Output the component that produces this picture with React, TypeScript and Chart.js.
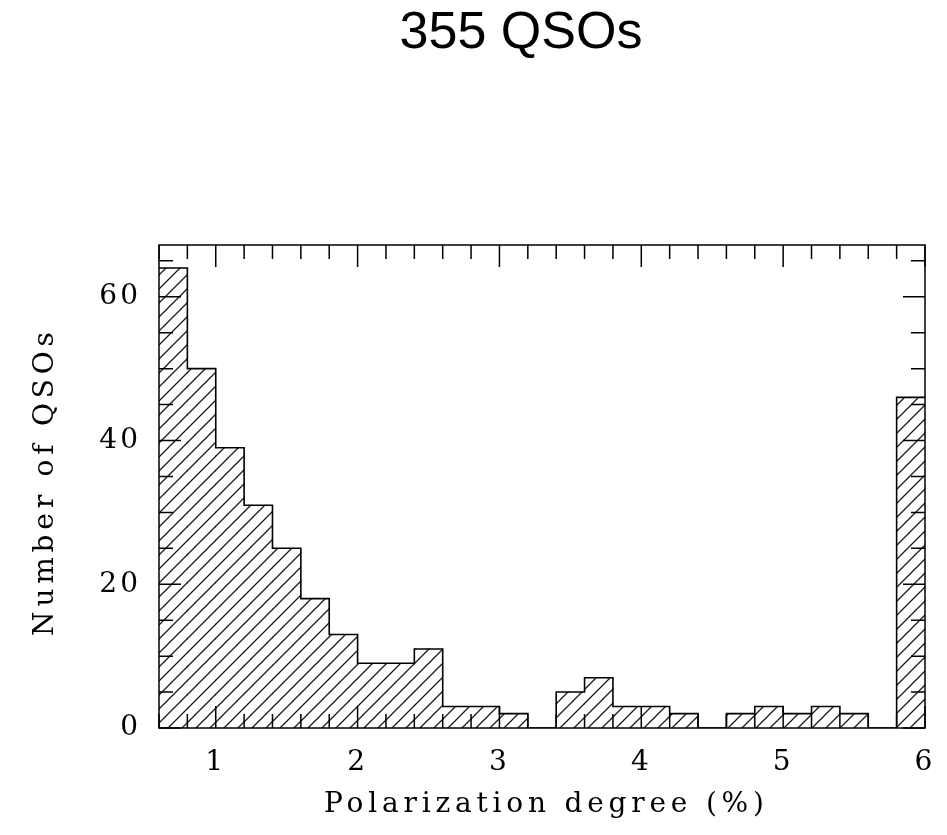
import React, { useEffect, useRef } from "react";
import { Chart, registerables } from "chart.js";

Chart.register(...registerables);

// ---- data ----
const binLeftEdges = [
  0.6, 0.8, 1.0, 1.2, 1.4, 1.6, 1.8, 2.0, 2.2, 2.4, 2.6, 2.8, 3.0, 3.2,
  3.4, 3.6, 3.8, 4.0, 4.2, 4.4, 4.6, 4.8, 5.0, 5.2, 5.4, 5.6, 5.8,
];
const binWidth = 0.2;
const counts = [
  64, 50, 39, 31, 25, 18, 13, 9, 9, 11, 3, 3, 2, 0,
  5, 7, 3, 3, 2, 0, 2, 3, 2, 3, 2, 0, 46,
];
const xTickLabels = [1, 2, 3, 4, 5, 6];
const yTickLabels = [0, 20, 40, 60];
const xMinorStep = 0.2;
const yMinorStep = 5;
const xMin = 0.6;
const xMax = 6.0;
const yMin = 0;
const yMax = 67.2;
const titleText = "355 QSOs";
const xTitle = "Polarization degree (%)";
const yTitle = "Number of QSOs";

const SERIF = "'DejaVu Serif', serif";
const LS_TICK = 3;
const LS_TITLE = 4.8;

function makeHatch(): CanvasPattern | string {
  const s = 14;
  const c = document.createElement("canvas");
  c.width = s;
  c.height = s;
  const g = c.getContext("2d");
  if (!g) return "#ccc";
  g.strokeStyle = "#1a1a1a";
  g.lineWidth = 1.3;
  g.beginPath();
  g.moveTo(-1, s + 1);
  g.lineTo(s + 1, -1);
  g.moveTo(-1, 1);
  g.lineTo(1, -1);
  g.moveTo(s - 1, s + 1);
  g.lineTo(s + 1, s - 1);
  g.stroke();
  return g.createPattern(c, "repeat") || "#ccc";
}

const spacingPlugin = {
  id: "spacing",
  beforeDraw(chart: any) {
    (chart.ctx as any).letterSpacing = LS_TICK + "px";
  },
  afterDraw(chart: any) {
    (chart.ctx as any).letterSpacing = "0px";
  },
};

const frameTicksPlugin = {
  id: "frameTicks",
  afterDatasetsDraw(chart: any) {
    const { ctx, chartArea: a, scales } = chart;
    const x = scales.x;
    const y = scales.y;
    ctx.save();
    ctx.strokeStyle = "#000";
    ctx.lineWidth = 1.5;
    ctx.beginPath();
    const eps = 1e-6;
    for (let v = xMin; v <= xMax + eps; v += xMinorStep) {
      const vv = Math.round(v * 10) / 10;
      const major = xTickLabels.some((t) => Math.abs(t - vv) < eps);
      const len = major ? 22 : 14;
      const px = x.getPixelForValue(vv);
      ctx.moveTo(px, a.bottom);
      ctx.lineTo(px, a.bottom - len);
      ctx.moveTo(px, a.top);
      ctx.lineTo(px, a.top + len);
    }
    for (let v = yMin; v <= yMax + eps; v += yMinorStep) {
      const major = yTickLabels.some((t) => Math.abs(t - v) < eps);
      const len = major ? 22 : 14;
      const py = y.getPixelForValue(v);
      ctx.moveTo(a.left, py);
      ctx.lineTo(a.left + len, py);
      ctx.moveTo(a.right, py);
      ctx.lineTo(a.right - len, py);
    }
    ctx.stroke();
    ctx.strokeRect(a.left, a.top, a.right - a.left, a.bottom - a.top);
    ctx.restore();
  },
};

const textPlugin = {
  id: "texts",
  afterDraw(chart: any) {
    const { ctx } = chart;
    ctx.save();
    (ctx as any).letterSpacing = "0px";
    ctx.fillStyle = "#000";
    ctx.font = "52px 'Liberation Sans', Arial, sans-serif";
    ctx.textAlign = "center";
    ctx.textBaseline = "alphabetic";
    ctx.fillText(titleText, 521, 48);

    (ctx as any).letterSpacing = LS_TITLE + "px";
    ctx.font = "28px " + SERIF;
    ctx.textAlign = "center";
    ctx.fillText(xTitle, 544 + LS_TITLE / 2, 812);

    ctx.translate(53, 484);
    ctx.rotate(-Math.PI / 2);
    ctx.fillText(yTitle, LS_TITLE / 2, 0);
    ctx.restore();
  },
};

export default function App() {
  const ref = useRef<HTMLCanvasElement | null>(null);

  useEffect(() => {
    document.body.style.margin = "0";
    const canvas = ref.current;
    if (!canvas) return;
    const hatch = makeHatch();

    const barData = binLeftEdges.map((e, i) => ({ x: e + binWidth / 2, y: counts[i] }));
    // step outline: horizontal at each bin's count from its left edge, then step
    const stepData = binLeftEdges.map((e, i) => ({ x: e, y: counts[i] }));
    stepData.push({
      x: binLeftEdges[binLeftEdges.length - 1] + binWidth,
      y: counts[counts.length - 1],
    });

    const chart = new Chart(canvas, {
      type: "bar",
      data: {
        datasets: [
          {
            type: "line",
            data: stepData,
            stepped: "before",
            borderColor: "#000",
            borderWidth: 1.6,
            pointRadius: 0,
            fill: false,
            order: 0,
          } as any,
          {
            type: "bar",
            data: barData,
            backgroundColor: hatch as any,
            borderWidth: 0,
            barPercentage: 1,
            categoryPercentage: 1,
            order: 1,
          } as any,
        ],
      },
      options: {
        responsive: false,
        animation: false,
        events: [],
        layout: { padding: { left: 0, top: 245, right: 22, bottom: 0 } },
        plugins: {
          legend: { display: false },
          title: { display: false },
          tooltip: { enabled: false },
        },
        scales: {
          x: {
            type: "linear",
            min: xMin,
            max: xMax,
            offset: false,
            grid: { display: false, drawTicks: false, offset: false },
            border: { display: false },
            afterBuildTicks: (s: any) => {
              s.ticks = xTickLabels.map((v) => ({ value: v }));
            },
            afterFit: (s: any) => {
              s.height = 835 - 728;
              s.paddingLeft = 0;
              s.paddingRight = 0;
            },
            ticks: {
              color: "#000",
              font: { family: SERIF, size: 28 },
              padding: 18,
              maxRotation: 0,
              autoSkip: false,
              callback: (v: any) => String(v),
            },
          },
          y: {
            type: "linear",
            min: yMin,
            max: yMax,
            grid: { display: false, drawTicks: false },
            border: { display: false },
            afterBuildTicks: (s: any) => {
              s.ticks = yTickLabels.map((v) => ({ value: v }));
            },
            afterFit: (s: any) => {
              s.width = 159;
              s.paddingTop = 0;
              s.paddingBottom = 0;
            },
            ticks: {
              color: "#000",
              font: { family: SERIF, size: 28 },
              padding: 18,
              autoSkip: false,
              callback: (v: any) => String(v),
            },
          },
        },
      },
      plugins: [spacingPlugin, frameTicksPlugin, textPlugin],
    });

    return () => chart.destroy();
  }, []);

  return (
    <div style={{ width: 947, height: 835, background: "#fff" }}>
      <canvas ref={ref} width={947} height={835} style={{ display: "block" }} />
    </div>
  );
}
